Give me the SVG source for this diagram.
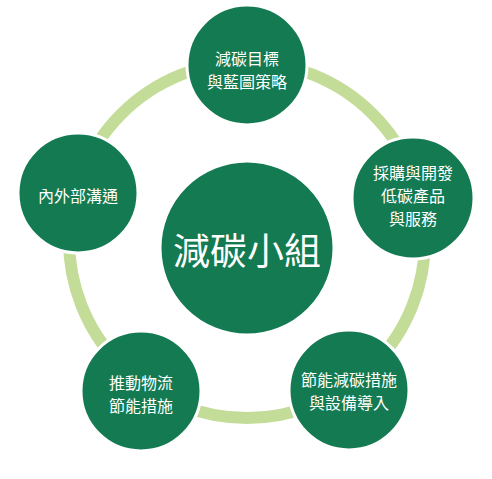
<svg xmlns="http://www.w3.org/2000/svg" width="492" height="479" viewBox="0 0 492 479">
<style>
.node{fill:#147a52;stroke:#ffffff;stroke-width:3}
.t{fill:#ffffff;font-family:"Noto Sans CJK TC","Noto Sans CJK SC",sans-serif;font-size:16px;text-anchor:middle;dominant-baseline:central}
.big{font-size:37px}
</style>
<rect width="492" height="479" fill="#ffffff"/>
<g id="connectors">
<circle cx="247" cy="240" r="178" fill="none" stroke="#c3dc98" stroke-width="12"/>
</g>
<g id="center">
<circle class="node" cx="247" cy="248" r="87"/>
<text class="t big" x="247" y="249">減碳小組</text>
</g>
<g id="top">
<circle class="node" cx="247" cy="65" r="60"/>
<text class="t" x="247" y="58">減碳目標</text>
<text class="t" x="247" y="81">與藍圖策略</text>
</g>
<g id="right">
<circle class="node" cx="413" cy="198" r="61"/>
<text class="t" x="413" y="172">採購與開發</text>
<text class="t" x="413" y="195">低碳產品</text>
<text class="t" x="413" y="218">與服務</text>
</g>
<g id="left">
<circle class="node" cx="78" cy="193" r="60"/>
<text class="t" x="78" y="195">內外部溝通</text>
</g>
<g id="bottom-left">
<circle class="node" cx="141" cy="391" r="60"/>
<text class="t" x="141" y="382">推動物流</text>
<text class="t" x="141" y="405">節能措施</text>
</g>
<g id="bottom-right">
<circle class="node" cx="349" cy="390" r="60"/>
<text class="t" x="349" y="379">節能減碳措施</text>
<text class="t" x="349" y="402">與設備導入</text>
</g>
</svg>
